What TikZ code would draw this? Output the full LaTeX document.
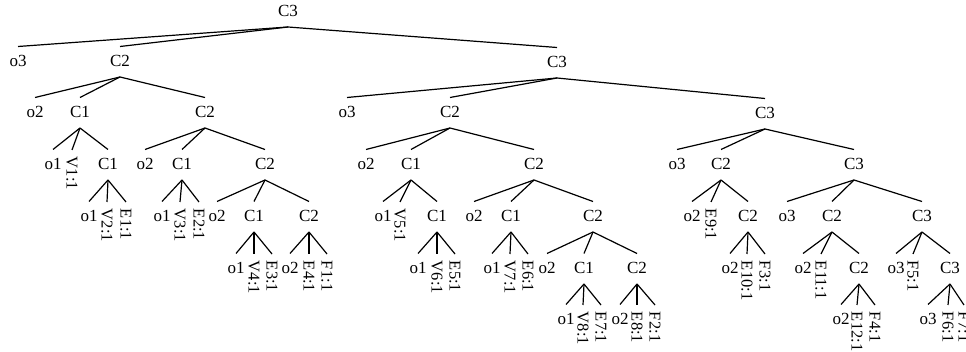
\documentclass[tikz,border=0pt]{standalone}
\usepackage{fontspec}
\setmainfont{Liberation Serif}
\begin{document}
\begin{tikzpicture}[x=1pt,y=-1pt,
  lbl/.style={inner sep=0pt, outer xsep=0pt, outer ysep=8.5pt, text height=12pt, text depth=1.5pt, anchor=base, font=\fontsize{17}{19}\selectfont},
  rl/.style={rotate=-90, anchor=west, inner sep=0pt, outer xsep=7pt, outer ysep=0pt, text height=11pt, text depth=0pt, font=\fontsize{16.5}{18}\selectfont},
  edge/.style={line width=1.2pt, black}]
\useasboundingbox (0,0) rectangle (966,352);
\clip (0,0) rectangle (966,352);
% root
\node[lbl] (n0) at (288,17) {C3};
% level 1 (baseline 67)
\node[lbl] (n1o) at (18,67) {o3};
\node[lbl] (n1a) at (120,67) {C2};
\node[lbl] (n1b) at (557,68) {C3};
% left subtree
\node[lbl] (n2o) at (35,118) {o2};
\node[lbl] (n2a) at (80,118) {C1};
\node[lbl] (n2b) at (205,118) {C2};
\node[lbl] (n3o) at (53,170) {o1};
\node[rl]  (n3v) at (72,150) {V1:1};
\node[lbl] (n3a) at (108,170) {C1};
\node[lbl] (n4o) at (89,222) {o1};
\node[rl]  (n4v) at (107,202) {V2:1};
\node[rl]  (n4e) at (126,202) {E1:1};
\node[lbl] (n5o) at (145,170) {o2};
\node[lbl] (n5a) at (182,170) {C1};
\node[lbl] (n5b) at (265,170) {C2};
\node[lbl] (n6o) at (162,222) {o1};
\node[rl]  (n6v) at (180,202) {V3:1};
\node[rl]  (n6e) at (199,202) {E2:1};
\node[lbl] (n7o) at (217,222) {o2};
\node[lbl] (n7a) at (254,222) {C1};
\node[lbl] (n7b) at (309,222) {C2};
\node[lbl] (n8o) at (236,274) {o1};
\node[rl]  (n8v) at (254,254) {V4:1};
\node[rl]  (n8e) at (272,254) {E3:1};
\node[lbl] (n9o) at (290,274) {o2};
\node[rl]  (n9e) at (309,254) {E4:1};
\node[rl]  (n9f) at (327,254) {F1:1};
% right subtree
\node[lbl] (m1o) at (347,118) {o3};
\node[lbl] (m1a) at (450,118) {C2};
\node[lbl] (m1b) at (765,119) {C3};
\node[lbl] (m2o) at (366,170) {o2};
\node[lbl] (m2a) at (411,170) {C1};
\node[lbl] (m2b) at (534,170) {C2};
\node[lbl] (m3o) at (383,222) {o1};
\node[rl]  (m3v) at (400,202) {V5:1};
\node[lbl] (m3a) at (437,222) {C1};
\node[lbl] (m4o) at (418,274) {o1};
\node[rl]  (m4v) at (437,254) {V6:1};
\node[rl]  (m4e) at (455,254) {E5:1};
\node[lbl] (m5o) at (474,222) {o2};
\node[lbl] (m5a) at (511,222) {C1};
\node[lbl] (m5b) at (593,222) {C2};
\node[lbl] (m6o) at (492,274) {o1};
\node[rl]  (m6v) at (510,254) {V7:1};
\node[rl]  (m6e) at (528,254) {E6:1};
\node[lbl] (m7o) at (547,274) {o2};
\node[lbl] (m7a) at (584,274) {C1};
\node[lbl] (m7b) at (637,274) {C2};
\node[lbl] (m8o) at (566,325) {o1};
\node[rl]  (m8v) at (583,305) {V8:1};
\node[rl]  (m8e) at (601,305) {E7:1};
\node[lbl] (m9o) at (620,325) {o2};
\node[rl]  (m9e) at (637,305) {E8:1};
\node[rl]  (m9f) at (655,305) {F2:1};
\node[lbl] (k1o) at (677,170) {o3};
\node[lbl] (k1a) at (721,170) {C2};
\node[lbl] (k1b) at (854,170) {C3};
\node[lbl] (k2o) at (692,222) {o2};
\node[rl]  (k2e) at (711,202) {E9:1};
\node[lbl] (k2a) at (748,222) {C2};
\node[lbl] (k3o) at (730,274) {o2};
\node[rl]  (k3e) at (747,254) {E10:1};
\node[rl]  (k3f) at (765,254) {F3:1};
\node[lbl] (k4o) at (787,222) {o3};
\node[lbl] (k4a) at (832,222) {C2};
\node[lbl] (k4b) at (922,222) {C3};
\node[lbl] (k5o) at (803,274) {o2};
\node[rl]  (k5e) at (821,254) {E11:1};
\node[lbl] (k5a) at (859,274) {C2};
\node[lbl] (k6o) at (841,325) {o2};
\node[rl]  (k6e) at (857,305) {E12:1};
\node[rl]  (k6f) at (875,305) {F4:1};
\node[lbl] (k7o) at (896,274) {o3};
\node[rl]  (k7f) at (913,254) {F5:1};
\node[lbl] (k7a) at (950,274) {C3};
\node[lbl] (k8o) at (928,325) {o3};
\node[rl]  (k8f) at (948,305) {F6:1};
\node[rl]  (k8g) at (964,305) {F7:1};
% connectors
\draw[edge] (n0.south) -- (n1o.north);
\draw[edge] (n0.south) -- (n1a.north);
\draw[edge] (n0.south) -- (n1b.north);
\draw[edge] (n1a.south) -- (n2o.north);
\draw[edge] (n1a.south) -- (n2a.north);
\draw[edge] (n1a.south) -- (n2b.north);
\draw[edge] (n2a.south) -- (n3o.north);
\draw[edge] (n2a.south) -- (n3v.west);
\draw[edge] (n2a.south) -- (n3a.north);
\draw[edge] (n3a.south) -- (n4o.north);
\draw[edge] (n3a.south) -- (n4v.west);
\draw[edge] (n3a.south) -- (n4e.west);
\draw[edge] (n2b.south) -- (n5o.north);
\draw[edge] (n2b.south) -- (n5a.north);
\draw[edge] (n2b.south) -- (n5b.north);
\draw[edge] (n5a.south) -- (n6o.north);
\draw[edge] (n5a.south) -- (n6v.west);
\draw[edge] (n5a.south) -- (n6e.west);
\draw[edge] (n5b.south) -- (n7o.north);
\draw[edge] (n5b.south) -- (n7a.north);
\draw[edge] (n5b.south) -- (n7b.north);
\draw[edge] (n7a.south) -- (n8o.north);
\draw[edge] (n7a.south) -- (n8v.west);
\draw[edge] (n7a.south) -- (n8e.west);
\draw[edge] (n7b.south) -- (n9o.north);
\draw[edge] (n7b.south) -- (n9e.west);
\draw[edge] (n7b.south) -- (n9f.west);
\draw[edge] (n1b.south) -- (m1o.north);
\draw[edge] (n1b.south) -- (m1a.north);
\draw[edge] (n1b.south) -- (m1b.north);
\draw[edge] (m1a.south) -- (m2o.north);
\draw[edge] (m1a.south) -- (m2a.north);
\draw[edge] (m1a.south) -- (m2b.north);
\draw[edge] (m2a.south) -- (m3o.north);
\draw[edge] (m2a.south) -- (m3v.west);
\draw[edge] (m2a.south) -- (m3a.north);
\draw[edge] (m3a.south) -- (m4o.north);
\draw[edge] (m3a.south) -- (m4v.west);
\draw[edge] (m3a.south) -- (m4e.west);
\draw[edge] (m2b.south) -- (m5o.north);
\draw[edge] (m2b.south) -- (m5a.north);
\draw[edge] (m2b.south) -- (m5b.north);
\draw[edge] (m5a.south) -- (m6o.north);
\draw[edge] (m5a.south) -- (m6v.west);
\draw[edge] (m5a.south) -- (m6e.west);
\draw[edge] (m5b.south) -- (m7o.north);
\draw[edge] (m5b.south) -- (m7a.north);
\draw[edge] (m5b.south) -- (m7b.north);
\draw[edge] (m7a.south) -- (m8o.north);
\draw[edge] (m7a.south) -- (m8v.west);
\draw[edge] (m7a.south) -- (m8e.west);
\draw[edge] (m7b.south) -- (m9o.north);
\draw[edge] (m7b.south) -- (m9e.west);
\draw[edge] (m7b.south) -- (m9f.west);
\draw[edge] (m1b.south) -- (k1o.north);
\draw[edge] (m1b.south) -- (k1a.north);
\draw[edge] (m1b.south) -- (k1b.north);
\draw[edge] (k1a.south) -- (k2o.north);
\draw[edge] (k1a.south) -- (k2e.west);
\draw[edge] (k1a.south) -- (k2a.north);
\draw[edge] (k2a.south) -- (k3o.north);
\draw[edge] (k2a.south) -- (k3e.west);
\draw[edge] (k2a.south) -- (k3f.west);
\draw[edge] (k1b.south) -- (k4o.north);
\draw[edge] (k1b.south) -- (k4a.north);
\draw[edge] (k1b.south) -- (k4b.north);
\draw[edge] (k4a.south) -- (k5o.north);
\draw[edge] (k4a.south) -- (k5e.west);
\draw[edge] (k4a.south) -- (k5a.north);
\draw[edge] (k5a.south) -- (k6o.north);
\draw[edge] (k5a.south) -- (k6e.west);
\draw[edge] (k5a.south) -- (k6f.west);
\draw[edge] (k4b.south) -- (k7o.north);
\draw[edge] (k4b.south) -- (k7f.west);
\draw[edge] (k4b.south) -- (k7a.north);
\draw[edge] (k7a.south) -- (k8o.north);
\draw[edge] (k7a.south) -- (k8f.west);
\draw[edge] (k7a.south) -- (k8g.west);
\end{tikzpicture}
\end{document}
